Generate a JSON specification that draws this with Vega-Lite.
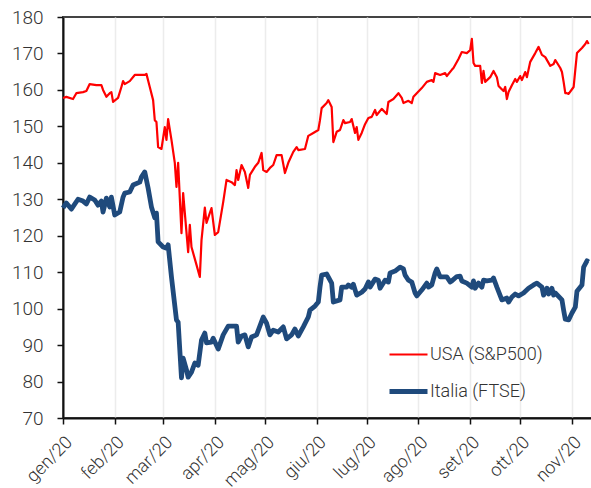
{
  "$schema": "https://vega.github.io/schema/vega-lite/v6.json",
  "autosize": {"type": "none"},
  "padding": {"left": 63, "top": 17, "right": 0, "bottom": 70},
  "width": 539,
  "height": 401,
  "background": "white",
  "config": {
    "font": "Roboto",
    "view": {"stroke": "#444444", "strokeWidth": 2},
    "axis": {"labelFont": "Roboto", "labelFontWeight": 300, "labelColor": "#333333", "domainColor": "#111111", "tickColor": "#111111", "domainWidth": 2, "tickWidth": 1.5}
  },
  "datasets": {
    "usa": [
      {"date": "2020-01-01", "v": 157.8}, {"date": "2020-01-03", "v": 158.1}, {"date": "2020-01-07", "v": 157.5},
      {"date": "2020-01-09", "v": 159.1}, {"date": "2020-01-13", "v": 159.4}, {"date": "2020-01-15", "v": 159.7},
      {"date": "2020-01-17", "v": 161.6}, {"date": "2020-01-21", "v": 161.3}, {"date": "2020-01-24", "v": 161.3},
      {"date": "2020-01-25", "v": 160.0}, {"date": "2020-01-27", "v": 158.1}, {"date": "2020-01-29", "v": 159.1},
      {"date": "2020-01-30", "v": 159.4}, {"date": "2020-01-31", "v": 156.7}, {"date": "2020-02-03", "v": 157.8},
      {"date": "2020-02-05", "v": 160.8}, {"date": "2020-02-06", "v": 162.4}, {"date": "2020-02-07", "v": 161.6},
      {"date": "2020-02-10", "v": 162.4}, {"date": "2020-02-13", "v": 164.1}, {"date": "2020-02-19", "v": 164.1},
      {"date": "2020-02-20", "v": 164.4}, {"date": "2020-02-22", "v": 160.8}, {"date": "2020-02-24", "v": 157.2},
      {"date": "2020-02-25", "v": 151.7}, {"date": "2020-02-26", "v": 151.2}, {"date": "2020-02-27", "v": 144.3},
      {"date": "2020-02-29", "v": 143.8}, {"date": "2020-03-02", "v": 149.8}, {"date": "2020-03-03", "v": 146.3},
      {"date": "2020-03-04", "v": 152.0}, {"date": "2020-03-06", "v": 146.3}, {"date": "2020-03-08", "v": 140.0},
      {"date": "2020-03-09", "v": 133.4}, {"date": "2020-03-10", "v": 140.0}, {"date": "2020-03-12", "v": 120.7},
      {"date": "2020-03-13", "v": 131.7}, {"date": "2020-03-16", "v": 115.5}, {"date": "2020-03-17", "v": 123.0},
      {"date": "2020-03-18", "v": 116.9}, {"date": "2020-03-21", "v": 112.0}, {"date": "2020-03-23", "v": 108.7},
      {"date": "2020-03-24", "v": 118.8}, {"date": "2020-03-26", "v": 127.7}, {"date": "2020-03-27", "v": 123.5},
      {"date": "2020-03-30", "v": 127.6}, {"date": "2020-04-01", "v": 120.2}, {"date": "2020-04-03", "v": 121.0},
      {"date": "2020-04-06", "v": 129.2}, {"date": "2020-04-08", "v": 135.3}, {"date": "2020-04-11", "v": 134.7},
      {"date": "2020-04-13", "v": 133.9}, {"date": "2020-04-14", "v": 138.0}, {"date": "2020-04-15", "v": 135.3},
      {"date": "2020-04-17", "v": 139.4}, {"date": "2020-04-19", "v": 137.5}, {"date": "2020-04-21", "v": 133.1},
      {"date": "2020-04-22", "v": 136.7}, {"date": "2020-04-25", "v": 138.9}, {"date": "2020-04-27", "v": 140.0},
      {"date": "2020-04-29", "v": 142.7}, {"date": "2020-04-30", "v": 138.0}, {"date": "2020-05-02", "v": 137.5},
      {"date": "2020-05-04", "v": 138.6}, {"date": "2020-05-06", "v": 139.4}, {"date": "2020-05-08", "v": 142.1},
      {"date": "2020-05-11", "v": 142.1}, {"date": "2020-05-13", "v": 137.2}, {"date": "2020-05-15", "v": 140.0},
      {"date": "2020-05-18", "v": 143.0}, {"date": "2020-05-20", "v": 144.3}, {"date": "2020-05-21", "v": 143.5},
      {"date": "2020-05-25", "v": 143.8}, {"date": "2020-05-27", "v": 147.4}, {"date": "2020-05-30", "v": 148.2},
      {"date": "2020-06-02", "v": 149.0}, {"date": "2020-06-03", "v": 151.7}, {"date": "2020-06-04", "v": 155.0},
      {"date": "2020-06-07", "v": 156.4}, {"date": "2020-06-08", "v": 157.2}, {"date": "2020-06-10", "v": 155.3},
      {"date": "2020-06-11", "v": 145.7}, {"date": "2020-06-13", "v": 148.5}, {"date": "2020-06-15", "v": 149.0},
      {"date": "2020-06-17", "v": 151.7}, {"date": "2020-06-18", "v": 150.9}, {"date": "2020-06-21", "v": 151.2},
      {"date": "2020-06-22", "v": 152.0}, {"date": "2020-06-24", "v": 148.2}, {"date": "2020-06-25", "v": 149.8},
      {"date": "2020-06-26", "v": 146.3}, {"date": "2020-06-28", "v": 148.2}, {"date": "2020-06-30", "v": 150.6},
      {"date": "2020-07-02", "v": 152.3}, {"date": "2020-07-04", "v": 152.6}, {"date": "2020-07-06", "v": 154.5},
      {"date": "2020-07-07", "v": 153.1}, {"date": "2020-07-10", "v": 154.8}, {"date": "2020-07-13", "v": 153.4},
      {"date": "2020-07-14", "v": 156.7}, {"date": "2020-07-17", "v": 157.5}, {"date": "2020-07-20", "v": 159.1},
      {"date": "2020-07-22", "v": 157.8}, {"date": "2020-07-23", "v": 156.4}, {"date": "2020-07-26", "v": 157.0},
      {"date": "2020-07-28", "v": 156.4}, {"date": "2020-07-29", "v": 158.1}, {"date": "2020-07-31", "v": 159.1},
      {"date": "2020-08-03", "v": 160.5}, {"date": "2020-08-06", "v": 162.2}, {"date": "2020-08-09", "v": 162.7},
      {"date": "2020-08-10", "v": 162.2}, {"date": "2020-08-11", "v": 164.6}, {"date": "2020-08-14", "v": 164.1},
      {"date": "2020-08-17", "v": 164.6}, {"date": "2020-08-18", "v": 163.8}, {"date": "2020-08-21", "v": 165.5},
      {"date": "2020-08-22", "v": 166.0}, {"date": "2020-08-25", "v": 168.5}, {"date": "2020-08-27", "v": 170.4},
      {"date": "2020-08-30", "v": 170.1}, {"date": "2020-09-01", "v": 170.9}, {"date": "2020-09-02", "v": 174.0},
      {"date": "2020-09-03", "v": 167.4}, {"date": "2020-09-04", "v": 166.6}, {"date": "2020-09-07", "v": 166.6},
      {"date": "2020-09-08", "v": 161.9}, {"date": "2020-09-09", "v": 165.2}, {"date": "2020-09-10", "v": 162.2},
      {"date": "2020-09-13", "v": 163.5}, {"date": "2020-09-15", "v": 165.2}, {"date": "2020-09-17", "v": 163.5},
      {"date": "2020-09-18", "v": 161.1}, {"date": "2020-09-21", "v": 159.7}, {"date": "2020-09-22", "v": 160.8},
      {"date": "2020-09-23", "v": 157.5}, {"date": "2020-09-24", "v": 159.4}, {"date": "2020-09-26", "v": 161.3},
      {"date": "2020-09-28", "v": 163.0}, {"date": "2020-09-29", "v": 162.2}, {"date": "2020-10-01", "v": 163.8},
      {"date": "2020-10-02", "v": 162.7}, {"date": "2020-10-04", "v": 164.9}, {"date": "2020-10-05", "v": 163.5},
      {"date": "2020-10-07", "v": 167.7}, {"date": "2020-10-10", "v": 170.1}, {"date": "2020-10-12", "v": 171.8},
      {"date": "2020-10-14", "v": 169.6}, {"date": "2020-10-16", "v": 169.0}, {"date": "2020-10-19", "v": 166.6},
      {"date": "2020-10-21", "v": 167.1}, {"date": "2020-10-22", "v": 168.2}, {"date": "2020-10-25", "v": 166.0},
      {"date": "2020-10-26", "v": 164.9}, {"date": "2020-10-27", "v": 162.2}, {"date": "2020-10-28", "v": 159.1},
      {"date": "2020-10-29", "v": 159.1}, {"date": "2020-10-30", "v": 158.9}, {"date": "2020-11-02", "v": 160.8},
      {"date": "2020-11-03", "v": 165.5}, {"date": "2020-11-04", "v": 170.1}, {"date": "2020-11-07", "v": 171.5},
      {"date": "2020-11-09", "v": 172.6}, {"date": "2020-11-10", "v": 173.4}, {"date": "2020-11-11", "v": 172.6}
    ],
    "ita": [
      {"date": "2020-01-01", "v": 127.6}, {"date": "2020-01-03", "v": 129.0}, {"date": "2020-01-06", "v": 127.3},
      {"date": "2020-01-10", "v": 130.0}, {"date": "2020-01-13", "v": 129.5}, {"date": "2020-01-15", "v": 128.7},
      {"date": "2020-01-17", "v": 130.6}, {"date": "2020-01-20", "v": 129.8}, {"date": "2020-01-22", "v": 128.4},
      {"date": "2020-01-24", "v": 129.5}, {"date": "2020-01-25", "v": 126.5}, {"date": "2020-01-27", "v": 130.3},
      {"date": "2020-01-29", "v": 127.9}, {"date": "2020-01-30", "v": 130.6}, {"date": "2020-02-01", "v": 125.7},
      {"date": "2020-02-04", "v": 126.5}, {"date": "2020-02-06", "v": 130.6}, {"date": "2020-02-07", "v": 131.7},
      {"date": "2020-02-10", "v": 132.0}, {"date": "2020-02-12", "v": 133.9}, {"date": "2020-02-16", "v": 134.7},
      {"date": "2020-02-17", "v": 136.1}, {"date": "2020-02-19", "v": 137.5}, {"date": "2020-02-21", "v": 133.1},
      {"date": "2020-02-23", "v": 127.9}, {"date": "2020-02-25", "v": 124.9}, {"date": "2020-02-26", "v": 126.2},
      {"date": "2020-02-27", "v": 118.3}, {"date": "2020-03-01", "v": 116.9}, {"date": "2020-03-03", "v": 116.6},
      {"date": "2020-03-04", "v": 117.5}, {"date": "2020-03-06", "v": 108.7}, {"date": "2020-03-09", "v": 96.9},
      {"date": "2020-03-10", "v": 96.3}, {"date": "2020-03-12", "v": 81.0}, {"date": "2020-03-13", "v": 86.4},
      {"date": "2020-03-15", "v": 83.2}, {"date": "2020-03-16", "v": 81.2}, {"date": "2020-03-18", "v": 82.6},
      {"date": "2020-03-20", "v": 85.1}, {"date": "2020-03-22", "v": 84.5}, {"date": "2020-03-24", "v": 91.4},
      {"date": "2020-03-26", "v": 93.3}, {"date": "2020-03-27", "v": 90.6}, {"date": "2020-03-30", "v": 90.8},
      {"date": "2020-03-31", "v": 91.9}, {"date": "2020-04-03", "v": 88.9}, {"date": "2020-04-06", "v": 92.8},
      {"date": "2020-04-09", "v": 95.2}, {"date": "2020-04-14", "v": 95.2}, {"date": "2020-04-15", "v": 90.8},
      {"date": "2020-04-17", "v": 92.5}, {"date": "2020-04-19", "v": 92.8}, {"date": "2020-04-21", "v": 89.5},
      {"date": "2020-04-23", "v": 92.2}, {"date": "2020-04-26", "v": 92.8}, {"date": "2020-04-30", "v": 97.7},
      {"date": "2020-05-02", "v": 96.0}, {"date": "2020-05-04", "v": 92.8}, {"date": "2020-05-06", "v": 94.1},
      {"date": "2020-05-09", "v": 93.6}, {"date": "2020-05-12", "v": 95.0}, {"date": "2020-05-14", "v": 91.7},
      {"date": "2020-05-17", "v": 92.8}, {"date": "2020-05-19", "v": 94.4}, {"date": "2020-05-21", "v": 92.5},
      {"date": "2020-05-24", "v": 95.0}, {"date": "2020-05-27", "v": 97.7}, {"date": "2020-05-28", "v": 99.6},
      {"date": "2020-05-31", "v": 100.7}, {"date": "2020-06-02", "v": 101.8}, {"date": "2020-06-03", "v": 105.9},
      {"date": "2020-06-04", "v": 109.2}, {"date": "2020-06-07", "v": 109.5}, {"date": "2020-06-10", "v": 107.0},
      {"date": "2020-06-11", "v": 101.8}, {"date": "2020-06-15", "v": 102.4}, {"date": "2020-06-16", "v": 105.9},
      {"date": "2020-06-19", "v": 105.9}, {"date": "2020-06-20", "v": 106.5}, {"date": "2020-06-22", "v": 105.9},
      {"date": "2020-06-23", "v": 106.7}, {"date": "2020-06-25", "v": 103.7}, {"date": "2020-06-28", "v": 104.5},
      {"date": "2020-06-30", "v": 105.4}, {"date": "2020-07-02", "v": 107.3}, {"date": "2020-07-03", "v": 105.9},
      {"date": "2020-07-06", "v": 108.1}, {"date": "2020-07-08", "v": 107.8}, {"date": "2020-07-09", "v": 105.6},
      {"date": "2020-07-12", "v": 107.8}, {"date": "2020-07-14", "v": 107.3}, {"date": "2020-07-15", "v": 109.8},
      {"date": "2020-07-18", "v": 110.3}, {"date": "2020-07-21", "v": 111.4}, {"date": "2020-07-23", "v": 110.9},
      {"date": "2020-07-24", "v": 109.2}, {"date": "2020-07-26", "v": 107.8}, {"date": "2020-07-28", "v": 107.3},
      {"date": "2020-07-30", "v": 104.3}, {"date": "2020-07-31", "v": 103.5}, {"date": "2020-08-03", "v": 105.1},
      {"date": "2020-08-06", "v": 107.0}, {"date": "2020-08-07", "v": 105.9}, {"date": "2020-08-09", "v": 106.5},
      {"date": "2020-08-11", "v": 109.8}, {"date": "2020-08-12", "v": 110.9}, {"date": "2020-08-14", "v": 108.7},
      {"date": "2020-08-16", "v": 108.7}, {"date": "2020-08-18", "v": 108.7}, {"date": "2020-08-20", "v": 107.3},
      {"date": "2020-08-21", "v": 107.6}, {"date": "2020-08-24", "v": 108.8}, {"date": "2020-08-26", "v": 108.9},
      {"date": "2020-08-27", "v": 107.6}, {"date": "2020-08-30", "v": 107.0}, {"date": "2020-09-02", "v": 105.9},
      {"date": "2020-09-03", "v": 107.6}, {"date": "2020-09-04", "v": 105.6}, {"date": "2020-09-06", "v": 107.0},
      {"date": "2020-09-08", "v": 105.9}, {"date": "2020-09-09", "v": 107.8}, {"date": "2020-09-11", "v": 107.6},
      {"date": "2020-09-14", "v": 107.8}, {"date": "2020-09-15", "v": 108.4}, {"date": "2020-09-17", "v": 105.9},
      {"date": "2020-09-20", "v": 102.4}, {"date": "2020-09-23", "v": 102.9}, {"date": "2020-09-24", "v": 101.8},
      {"date": "2020-09-26", "v": 103.2}, {"date": "2020-09-28", "v": 104.0}, {"date": "2020-09-30", "v": 103.5},
      {"date": "2020-10-03", "v": 104.3}, {"date": "2020-10-06", "v": 105.6}, {"date": "2020-10-09", "v": 106.5},
      {"date": "2020-10-11", "v": 107.0}, {"date": "2020-10-14", "v": 105.9}, {"date": "2020-10-15", "v": 103.7},
      {"date": "2020-10-17", "v": 105.6}, {"date": "2020-10-18", "v": 104.0}, {"date": "2020-10-20", "v": 105.6},
      {"date": "2020-10-21", "v": 103.7}, {"date": "2020-10-22", "v": 104.3}, {"date": "2020-10-26", "v": 102.4},
      {"date": "2020-10-27", "v": 99.6}, {"date": "2020-10-28", "v": 97.1}, {"date": "2020-10-30", "v": 96.9},
      {"date": "2020-11-01", "v": 98.8}, {"date": "2020-11-03", "v": 100.4}, {"date": "2020-11-04", "v": 104.8},
      {"date": "2020-11-07", "v": 106.5}, {"date": "2020-11-08", "v": 111.4}, {"date": "2020-11-10", "v": 113.1},
      {"date": "2020-11-11", "v": 112.8}
    ]
  },
  "encoding": {
    "x": {"field": "date", "type": "temporal",
      "scale": {"domain": ["2020-01-01", "2020-11-19"]},
      "axis": {"title": null, "grid": true, "gridColor": "#ececec", "gridWidth": 1.5,
        "tickCount": {"interval": "month", "step": 1}, "tickSize": 6,
        "labelExpr": "['gen','feb','mar','apr','mag','giu','lug','ago','set','ott','nov','dic'][month(datum.value)] + '/' + timeFormat(datum.value, '%y')",
        "labelAngle": -45, "labelAlign": "right", "labelBaseline": "top", "labelFontSize": 18, "labelPadding": 9, "labelOverlap": false, "labelBound": false, "labelFlush": false}},
    "y": {"field": "v", "type": "quantitative",
      "scale": {"domain": [70, 180], "nice": false, "zero": false},
      "axis": {"title": null, "grid": false, "values": [70, 80, 90, 100, 110, 120, 130, 140, 150, 160, 170, 180],
        "tickSize": 6, "labelFontSize": 19, "labelPadding": 14, "labelOverlap": false, "labelBound": false, "labelFlush": false}},
    "color": {"field": "serie", "type": "nominal",
      "scale": {"domain": ["USA (S&P500)", "Italia (FTSE)"], "range": ["#ff0000", "#1f4a7c"]},
      "legend": {"title": null, "orient": "none", "legendX": 324, "legendY": 317, "symbolType": "stroke", "symbolSize": 1444,
        "labelFontSize": 18, "labelFontWeight": 300, "labelColor": "#333333", "labelFont": "Roboto", "rowPadding": 6, "labelOffset": 0}},
    "strokeWidth": {"field": "serie", "type": "nominal",
      "scale": {"domain": ["USA (S&P500)", "Italia (FTSE)"], "range": [2.2, 4.8]},
      "legend": {"title": null, "orient": "none", "legendX": 324, "legendY": 317, "symbolType": "stroke", "symbolSize": 1444,
        "labelFontSize": 18, "labelFontWeight": 300, "labelColor": "#333333", "labelFont": "Roboto", "rowPadding": 6, "labelOffset": 0}}
  },
  "layer": [
    {
      "data": {"name": "usa"},
      "transform": [{"calculate": "'USA (S&P500)'", "as": "serie"}],
      "mark": {"type": "line", "strokeJoin": "round"}
    },
    {
      "data": {"name": "ita"},
      "transform": [{"calculate": "'Italia (FTSE)'", "as": "serie"}],
      "mark": {"type": "line", "strokeJoin": "round"}
    }
  ]
}
